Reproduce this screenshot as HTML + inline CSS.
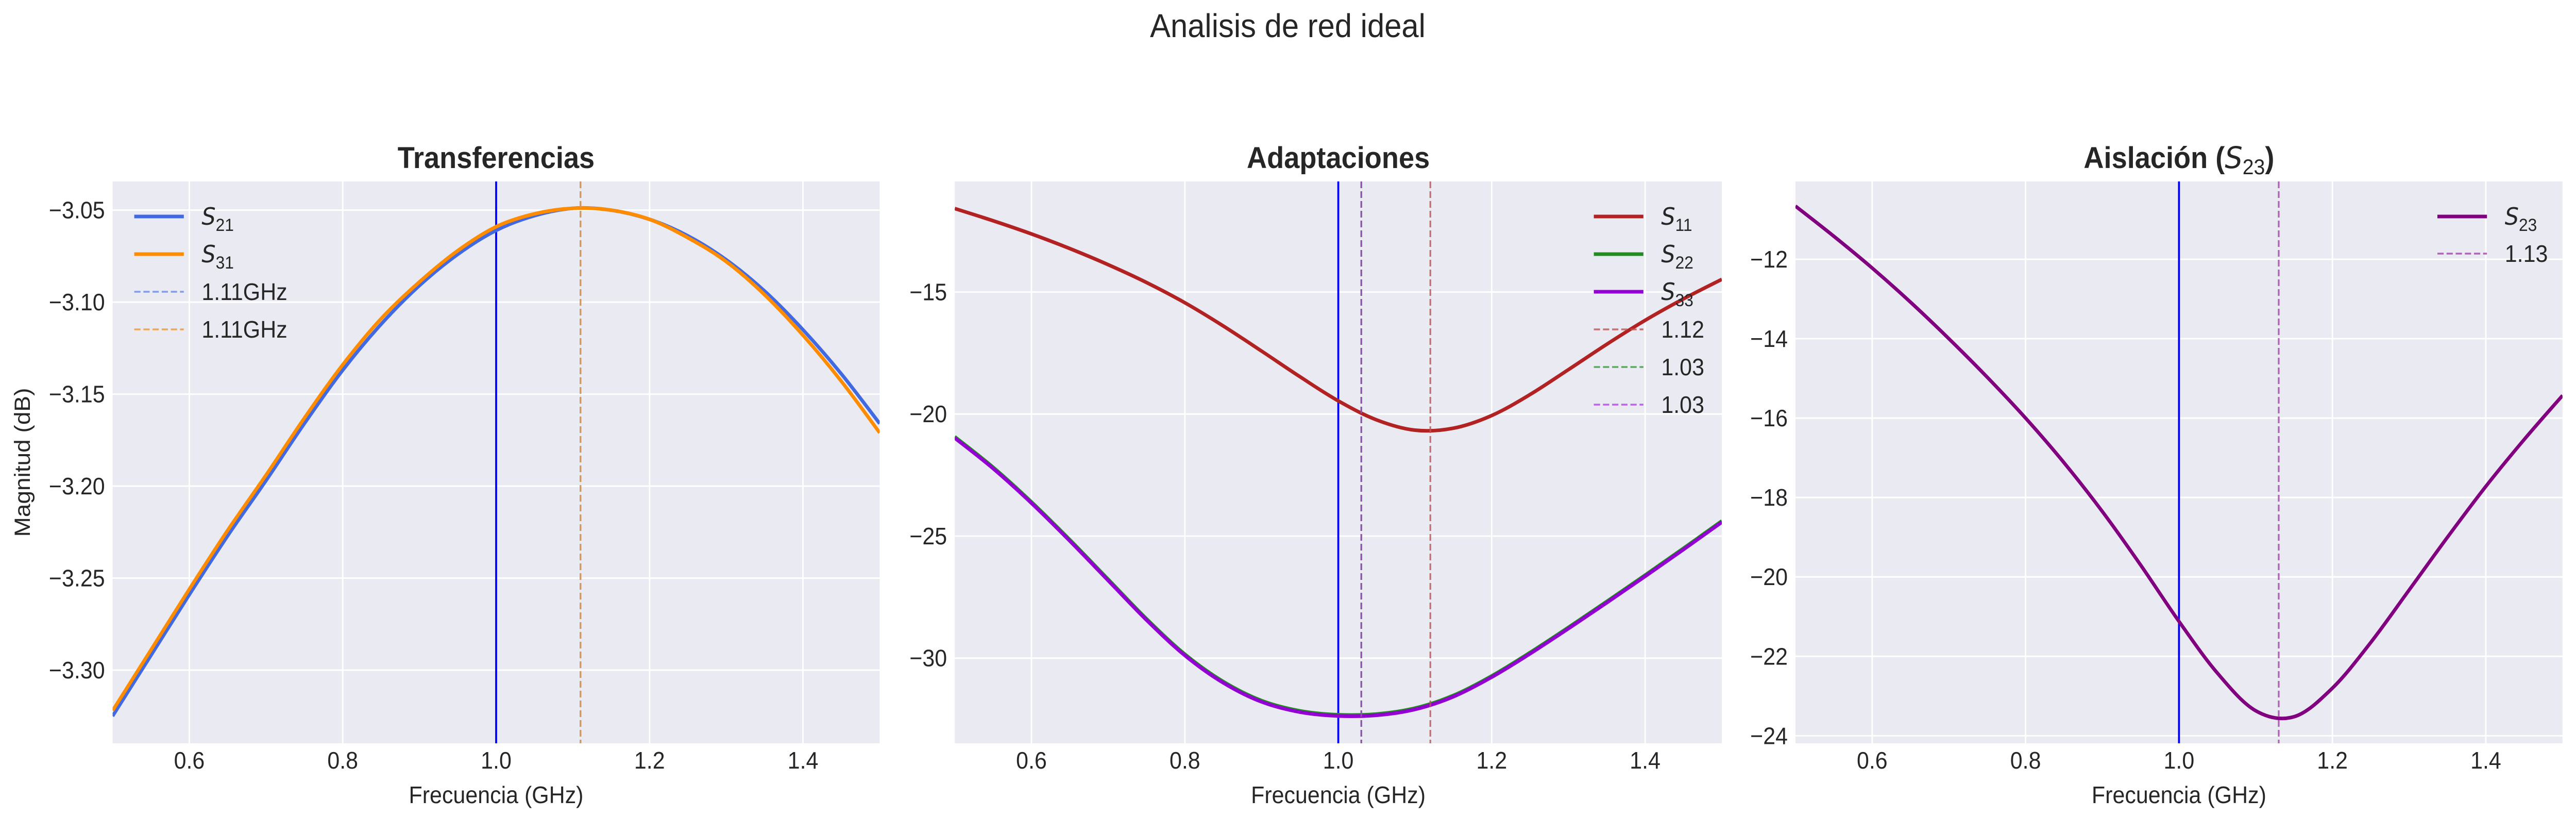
<!DOCTYPE html>
<html><head><meta charset="utf-8"><style>
html,body{margin:0;padding:0;background:#fff;width:100%;height:100%;overflow:hidden}
svg{display:block;position:absolute;left:0;top:0;width:100vw;height:100vh;font-family:"Liberation Sans",sans-serif;fill:#262626}
</style></head><body>
<svg id="fig" viewBox="0 0 5353 1583" preserveAspectRatio="none">
<text x="2676" y="72" font-size="64" text-anchor="middle">Analisis de red ideal</text>
</svg>
<script>
const freqs=[0.5,0.55,0.6,0.65,0.7,0.75,0.8,0.85,0.9,0.95,1.0,1.05,1.1,1.15,1.2,1.25,1.3,1.35,1.4,1.45,1.5];
const s21=[-3.325,-3.292,-3.259,-3.227,-3.197,-3.166,-3.137,-3.112,-3.091,-3.074,-3.061,-3.053,-3.049,-3.050,-3.055,-3.064,-3.077,-3.094,-3.115,-3.139,-3.166];
const s31=[-3.322,-3.289,-3.256,-3.224,-3.194,-3.163,-3.134,-3.109,-3.089,-3.072,-3.059,-3.052,-3.049,-3.050,-3.055,-3.065,-3.078,-3.096,-3.118,-3.143,-3.171];
const s11=[-11.58,-12.08,-12.62,-13.22,-13.88,-14.61,-15.44,-16.39,-17.42,-18.47,-19.46,-20.24,-20.66,-20.58,-20.06,-19.20,-18.18,-17.14,-16.16,-15.28,-14.48];
const s22=[-20.93,-22.18,-23.60,-25.15,-26.77,-28.39,-29.84,-30.96,-31.74,-32.16,-32.32,-32.29,-32.05,-31.53,-30.73,-29.77,-28.74,-27.68,-26.60,-25.50,-24.38];
const s33=[-20.98,-22.23,-23.65,-25.20,-26.82,-28.44,-29.89,-31.01,-31.79,-32.21,-32.37,-32.34,-32.10,-31.58,-30.78,-29.82,-28.79,-27.73,-26.65,-25.55,-24.43];
const s23=[-10.66,-11.42,-12.22,-13.08,-14.00,-14.97,-16.00,-17.12,-18.35,-19.70,-21.12,-22.42,-23.37,-23.52,-22.80,-21.65,-20.33,-19.00,-17.72,-16.54,-15.43];
const xTicks=[0.6,0.8,1.0,1.2,1.4];
const yTicks1=[-3.30,-3.25,-3.20,-3.15,-3.10,-3.05];
const yTicks2=[-30,-25,-20,-15];
const yTicks3=[-24,-22,-20,-18,-16,-14,-12];
const markers1=[1.11,1.11];
const markers2=[1.12,1.03,1.03];
const markers3=[1.13];

const NS="http://www.w3.org/2000/svg";
const svg=document.getElementById('fig');
function mk(tag,attrs,parent){const e=document.createElementNS(NS,tag);for(const k in attrs)e.setAttribute(k,attrs[k]);(parent||svg).appendChild(e);return e;}
function smooth(pts){let d="M"+pts[0][0]+","+pts[0][1];for(let i=0;i<pts.length-1;i++){const p0=pts[Math.max(0,i-1)],p1=pts[i],p2=pts[i+1],p3=pts[Math.min(pts.length-1,i+2)];const c1x=p1[0]+(p2[0]-p0[0])/6,c1y=p1[1]+(p2[1]-p0[1])/6,c2x=p2[0]-(p3[0]-p1[0])/6,c2y=p2[1]-(p3[1]-p1[1])/6;d+=" C"+c1x+","+c1y+" "+c2x+","+c2y+" "+p2[0]+","+p2[1];}return d;}

function panel(cfg){
  const L=cfg.left,T=352,W=1594,H=1090;
  const xs=v=>L+(v-0.5)/1.0*W;
  const ys=v=>T+(cfg.ymax-v)/(cfg.ymax-cfg.ymin)*H;
  const g=mk('g',{});
  
  
  const bg=mk('rect',{x:L,y:T,width:W,height:H,fill:'#eaeaf2'},g);
  
  
  const cp=mk('clipPath',{id:'c'+cfg.id},g);
  mk('rect',{x:L,y:T,width:W,height:H},cp);
  xTicks.forEach(t=>{
    const x=xs(t);
    const gl=mk('line',{x1:x,x2:x,y1:T,y2:T+H,stroke:'#fff','stroke-width':3},g);
    
    
    const tx=mk('text',{x:x,y:1491,'font-size':46,'text-anchor':'middle'},g);tx.textContent=t.toFixed(1);
    
    
  });
  cfg.yticks.forEach(t=>{
    const y=ys(t);
    const gl=mk('line',{x1:L,x2:L+W,y1:y,y2:y,stroke:'#fff','stroke-width':3},g);
    
    
    const tx=mk('text',{x:L-16,y:y+16,'font-size':46,'text-anchor':'end'},g);tx.textContent=(t<0?'\u2212':'')+Math.abs(t).toFixed(cfg.dec);
    
    
  });
  const cg=mk('g',{'clip-path':'url(#c'+cfg.id+')'},g);
  const vl=mk('line',{x1:xs(1.0),x2:xs(1.0),y1:T,y2:T+H,stroke:'#0000ee','stroke-width':4},cg);
  
  
  cfg.series.forEach(s=>{
    const p=mk('path',{d:smooth(freqs.map((f,i)=>[xs(f),ys(s.vals[i])])),fill:'none',stroke:s.color,'stroke-width':7,'stroke-linejoin':'round'},cg);
    
    
  });
  cfg.markers.forEach((m,i)=>{
    const l=mk('line',{x1:xs(m),x2:xs(m),y1:T,y2:T+H,stroke:cfg.mcolors[i],'stroke-width':3.5,'stroke-dasharray':'13,6','stroke-opacity':0.8},cg);
    
    
  });
  const tt=mk('text',{x:L+W/2,y:326,'font-size':58,'font-weight':'bold','text-anchor':'middle'},g);tt.innerHTML=cfg.title;
  
  
  const xl=mk('text',{x:L+W/2,y:1558,'font-size':46,'text-anchor':'middle'},g);xl.textContent='Frecuencia (GHz)';
  
  
  const lg=mk('g',{},g);
  
  
  cfg.legend.forEach((e,i)=>{
    const y=420+i*cfg.lstep;
    mk('line',{x1:cfg.lx,x2:cfg.lx+103,y1:y,y2:y,stroke:e.color,'stroke-width':e.dash?3.5:7,'stroke-dasharray':e.dash?'13,6':'none','stroke-opacity':e.dash?0.8:1},lg);
    const t=mk('text',{x:cfg.lx+140,y:y+16,'font-size':46},lg);t.innerHTML=e.label;
    
    
  });
}
const sub=n=>'<tspan font-style="italic" font-family="DejaVu Sans">S</tspan><tspan font-size="34" dy="12">'+n+'</tspan>';
panel({id:1,name:'transferencias-panel',left:234,ymin:-3.3398,ymax:-3.0344,yticks:yTicks1,dec:2,title:'Transferencias',
  series:[{vals:s21,color:'#4169e1',name:'line-s21'},{vals:s31,color:'#ff8c00',name:'line-s31'}],
  markers:markers1,mcolors:['#6a8ae8','#f0962e'],lx:279,lstep:73,
  legend:[{color:'#4169e1',label:sub('21')},{color:'#ff8c00',label:sub('31')},{color:'#6a8ae8',dash:1,label:'1.11GHz'},{color:'#f0962e',dash:1,label:'1.11GHz'}]});
panel({id:2,name:'adaptaciones-panel',left:1984,ymin:-33.49,ymax:-10.47,yticks:yTicks2,dec:0,title:'Adaptaciones',
  series:[{vals:s11,color:'#b22222',name:'line-s11'},{vals:s22,color:'#228b22',name:'line-s22'},{vals:s33,color:'#9400d3',name:'line-s33'}],
  markers:markers2,mcolors:['#c05050','#3a9a3a','#a040c8'],lx:3312,lstep:73,
  legend:[{color:'#b22222',label:sub('11')},{color:'#228b22',label:sub('22')},{color:'#9400d3',label:sub('33')},{color:'#c05050',dash:1,label:'1.12'},{color:'#3a9a3a',dash:1,label:'1.03'},{color:'#b040e8',dash:1,label:'1.03'}]});
panel({id:3,name:'aislacion-panel',left:3731,ymin:-24.19,ymax:-10.04,yticks:yTicks3,dec:0,title:'Aislación (<tspan font-style="italic" font-weight="normal" font-family="DejaVu Sans">S</tspan><tspan font-weight="normal" font-size="42" dy="12">23</tspan><tspan dy="-12">)</tspan>',
  series:[{vals:s23,color:'#800080',name:'line-s23'}],
  markers:markers3,mcolors:['#a040a8'],lx:5065,lstep:72,
  legend:[{color:'#800080',label:sub('23')},{color:'#a040a8',dash:1,label:'1.13'}]});
const yl=mk('text',{x:0,y:0,'font-size':46,'text-anchor':'middle',transform:'translate(62,897) rotate(-90)'});
yl.textContent='Magnitud (dB)';


</script>
</body></html>
